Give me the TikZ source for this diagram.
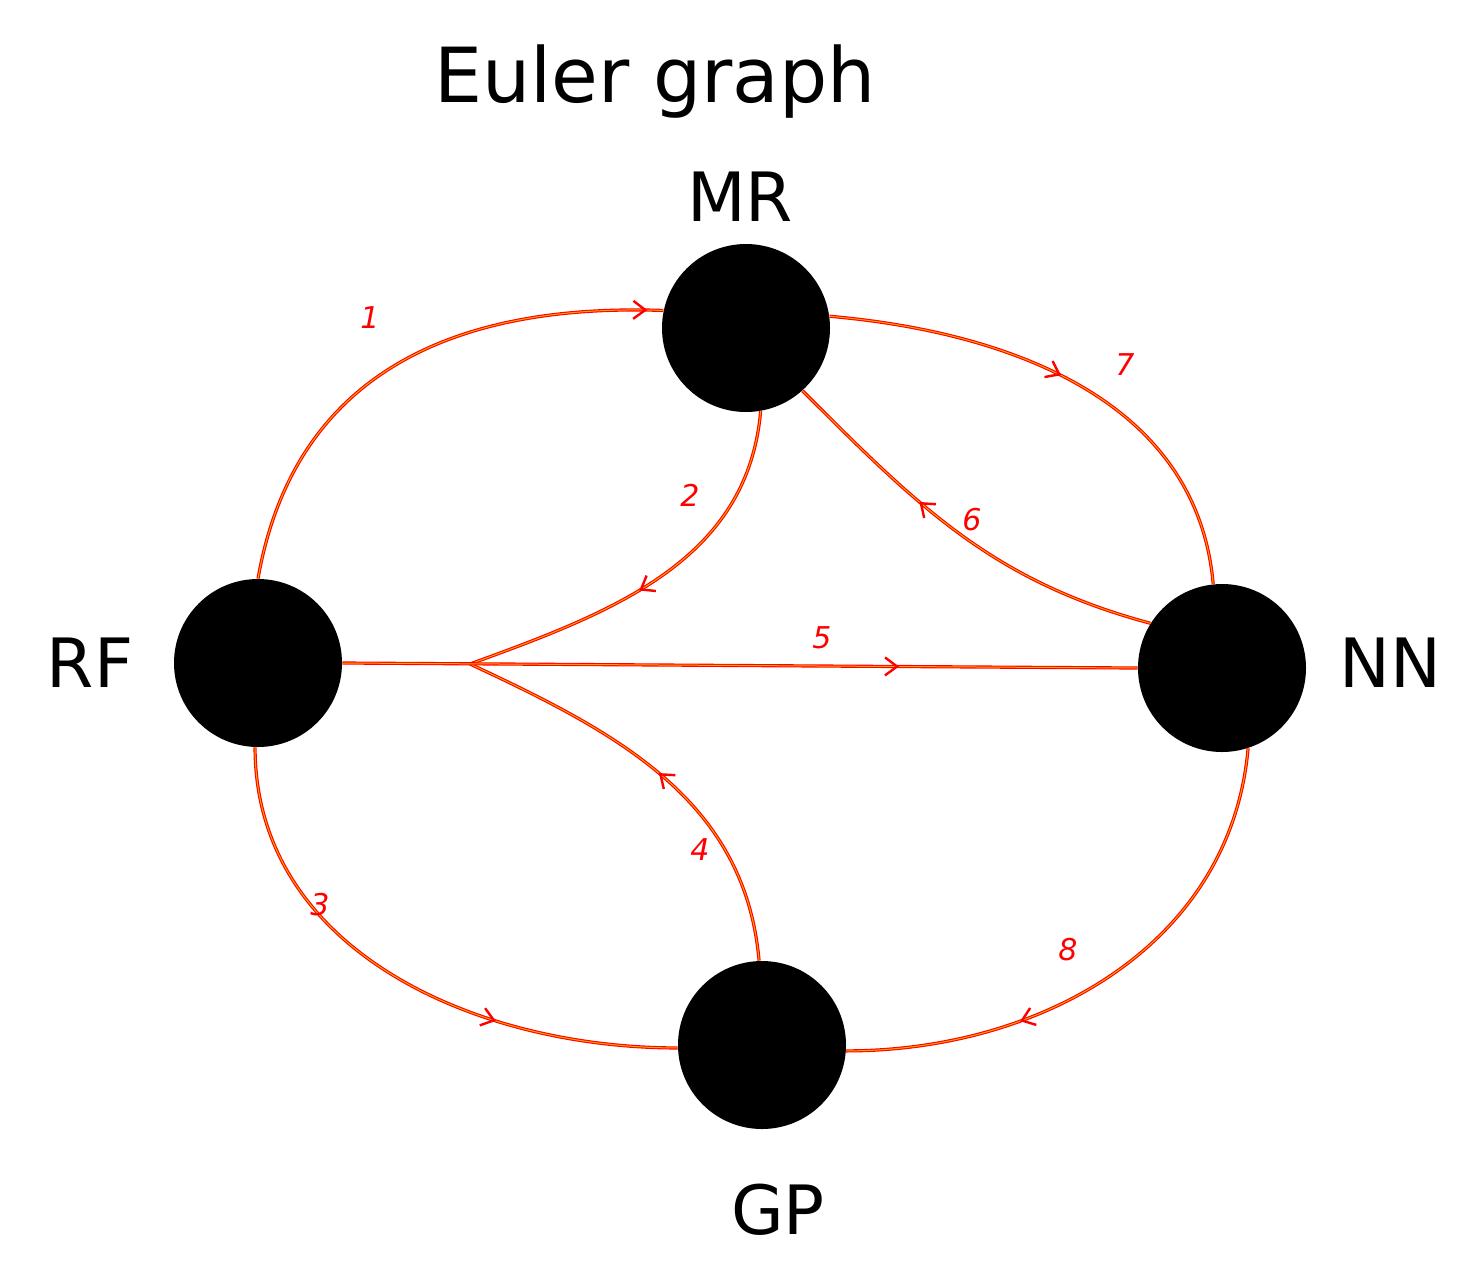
\documentclass[tikz,border=0pt]{standalone}
\usepackage{fontspec}
\setmainfont{DejaVu Sans}
\usetikzlibrary{decorations.markings,arrows.meta}
\begin{document}
\begin{tikzpicture}[x=0.5pt,y=-0.5pt,
  v/.style={circle,fill=black,minimum size=84pt,inner sep=0pt},
  lbl/.style={font=\fontsize{34}{40}\selectfont},
  num/.style={text=red,font=\itshape\fontsize{15}{18}\selectfont},
  e/.style={draw=red,line width=1.6pt,postaction={draw=orange!70!yellow,line width=0.5pt}},
  mk/.style={postaction={decorate,decoration={markings,mark=at position #1 with {\arrow[red,line width=1.2pt]{Straight Barb[length=6pt,width=9pt]}}}}}]
\useasboundingbox (0,0) rectangle (1484,1276);
\node[lbl,font=\fontsize{38}{44}\selectfont] (t) at (655,82) {Euler graph};
\node[v] (MR) at (746,328) {};
\node[v] (RF) at (258,663) {};
\node[v] (NN) at (1222,668) {};
\node[v] (GP) at (762,1045) {};
\node[lbl] (lMR) at (740,197) {MR};
\node[lbl] (lRF) at (90,663) {RF};
\node[lbl] (lNN) at (1390,663) {NN};
\node[lbl] (lGP) at (778,1210) {GP};
\coordinate (j) at (470,664);
\draw[e,mk=0.97] (RF.90) to[out=80,in=178,looseness=1.1] (MR.168);
\draw[e,mk=0.55] (MR.-80) to[out=-95,in=20] (j);
\draw[e,mk=0.68] (RF.-92) to[out=-90,in=180,looseness=1.0] (GP.182);
\draw[e,mk=0.5] (GP.92) to[out=95,in=-25] (j);
\draw[e,mk=0.7] (RF.0) -- (NN.180);
\draw[e,mk=0.62] (NN.148) to[out=165,in=-45] (MR.-48);
\draw[e,mk=0.47] (MR.8) to[out=-5,in=95] (NN.96);
\draw[e,mk=0.68] (NN.-72) to[out=-95,in=0] (GP.-4);
\node[num] (n1) at (370,318) {1};
\node[num] (n2) at (690,495) {2};
\node[num] (n3) at (320,905) {3};
\node[num] (n4) at (700,850) {4};
\node[num] (n5) at (822,638) {5};
\node[num] (n6) at (972,520) {6};
\node[num] (n7) at (1125,365) {7};
\node[num] (n8) at (1068,950) {8};
\end{tikzpicture}
\end{document}
